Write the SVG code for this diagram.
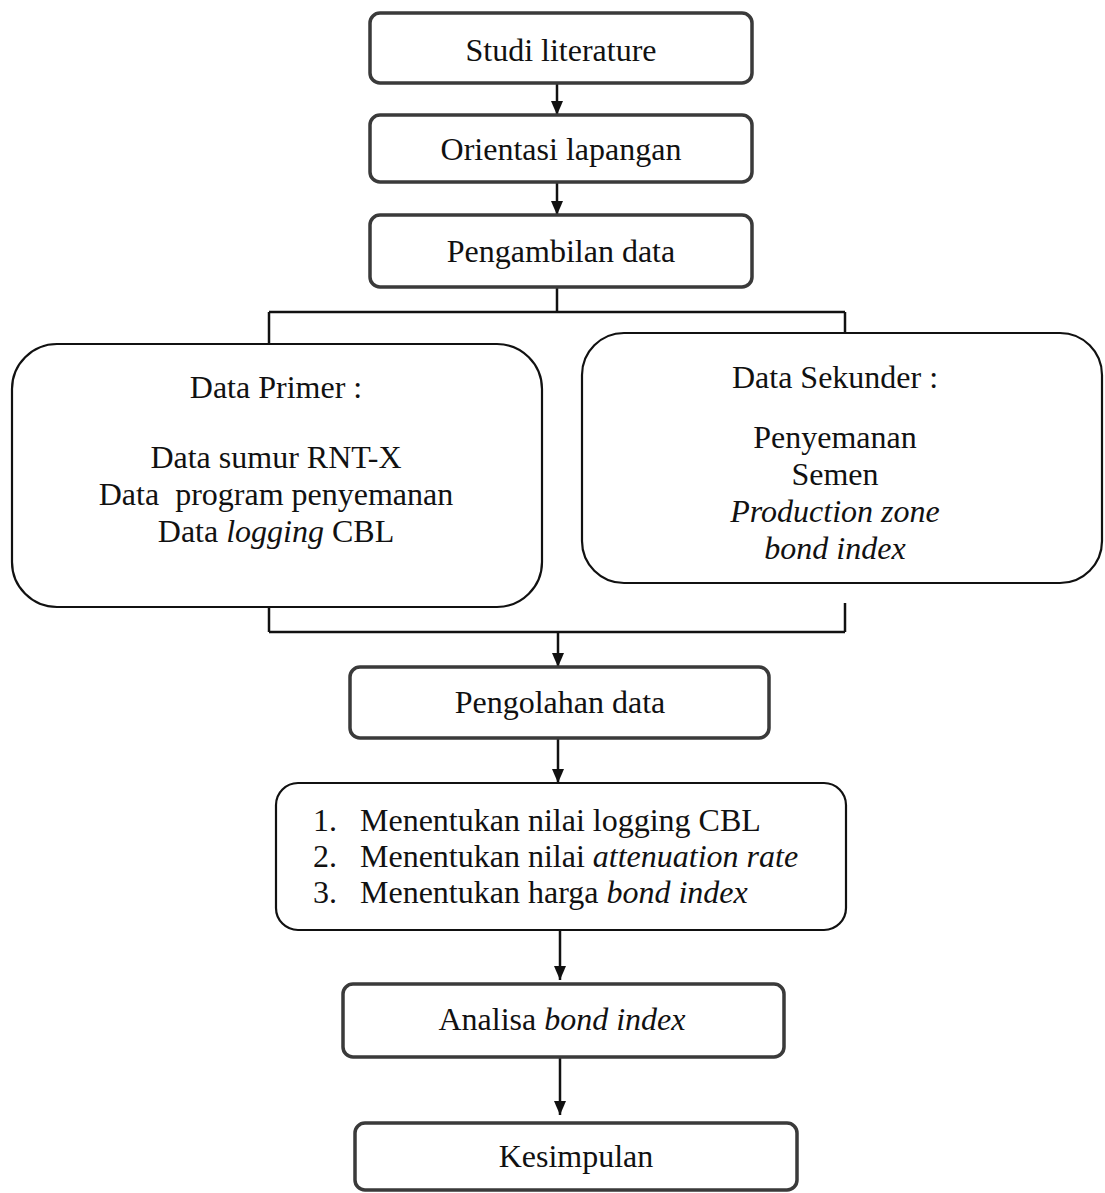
<svg xmlns="http://www.w3.org/2000/svg" width="1105" height="1193" viewBox="0 0 1105 1193">
<style>
  text { font-family: "Liberation Serif", "Times New Roman", serif; font-size: 32px; fill: #111; }
  .c { text-anchor: middle; }
  .i { font-style: italic; }
  .thick { fill: #fff; stroke: #3a3a3a; stroke-width: 3.5; }
  .thin { fill: #fff; stroke: #111; stroke-width: 2.2; }
  .conn { fill: none; stroke: #111; stroke-width: 2.5; }
</style>
<defs>
  <marker id="arr" viewBox="0 0 14 12" refX="14" refY="6" markerWidth="14" markerHeight="12" markerUnits="userSpaceOnUse" orient="auto">
    <path d="M0,0 L14,6 L0,12 z" fill="#111"/>
  </marker>
</defs>
<rect width="1105" height="1193" fill="#fff"/>

<g id="connectors">
  <path class="conn" d="M557,83 V115" marker-end="url(#arr)"/>
  <path class="conn" d="M557,182 V215" marker-end="url(#arr)"/>
  <path class="conn" d="M557,287 V312"/>
  <path class="conn" d="M269,312 H845"/>
  <path class="conn" d="M269,312 V344"/>
  <path class="conn" d="M845,312 V333"/>
  <path class="conn" d="M269,607 V632"/>
  <path class="conn" d="M845,603 V632"/>
  <path class="conn" d="M269,632 H845"/>
  <path class="conn" d="M558,632 V667" marker-end="url(#arr)"/>
  <path class="conn" d="M558,738 V783" marker-end="url(#arr)"/>
  <path class="conn" d="M560,930 V980" marker-end="url(#arr)"/>
  <path class="conn" d="M560,1057 V1115" marker-end="url(#arr)"/>
</g>

<g id="studi">
  <rect class="thick" x="370" y="13" width="382" height="70" rx="10"/>
  <text class="c" x="561" y="61">Studi literature</text>
</g>
<g id="orientasi">
  <rect class="thick" x="370" y="115" width="382" height="67" rx="10"/>
  <text class="c" x="561" y="160">Orientasi lapangan</text>
</g>
<g id="pengambilan">
  <rect class="thick" x="370" y="215" width="382" height="72" rx="10"/>
  <text class="c" x="561" y="262">Pengambilan data</text>
</g>
<g id="primer">
  <rect class="thin" x="12" y="344" width="530" height="263" rx="45"/>
  <text class="c" x="276" y="398">Data Primer :</text>
  <text class="c" x="276" y="468">Data sumur RNT-X</text>
  <text class="c" x="276" y="505" xml:space="preserve">Data  program penyemanan</text>
  <text class="c" x="276" y="542">Data <tspan class="i">logging</tspan> CBL</text>
</g>
<g id="sekunder">
  <rect class="thin" x="582" y="333" width="520" height="250" rx="42"/>
  <text class="c" x="835" y="388">Data Sekunder :</text>
  <text class="c" x="835" y="448">Penyemanan</text>
  <text class="c" x="835" y="485">Semen</text>
  <text class="c i" x="835" y="522">Production zone</text>
  <text class="c i" x="835" y="559">bond index</text>
</g>
<g id="pengolahan">
  <rect class="thick" x="350" y="667" width="419" height="71" rx="10"/>
  <text class="c" x="560" y="713">Pengolahan data</text>
</g>
<g id="langkah">
  <rect class="thin" x="276" y="783" width="570" height="147" rx="22"/>
  <text y="831"><tspan x="313">1.</tspan><tspan x="360">Menentukan nilai logging CBL</tspan></text>
  <text y="867"><tspan x="313">2.</tspan><tspan x="360">Menentukan nilai </tspan><tspan class="i">attenuation rate</tspan></text>
  <text y="903"><tspan x="313">3.</tspan><tspan x="360">Menentukan harga </tspan><tspan class="i">bond index</tspan></text>
</g>
<g id="analisa">
  <rect class="thick" x="343" y="984" width="441" height="73" rx="10"/>
  <text class="c" x="562" y="1030">Analisa <tspan class="i">bond index</tspan></text>
</g>
<g id="kesimpulan">
  <rect class="thick" x="355" y="1123" width="442" height="67" rx="10"/>
  <text class="c" x="576" y="1167">Kesimpulan</text>
</g>
</svg>
